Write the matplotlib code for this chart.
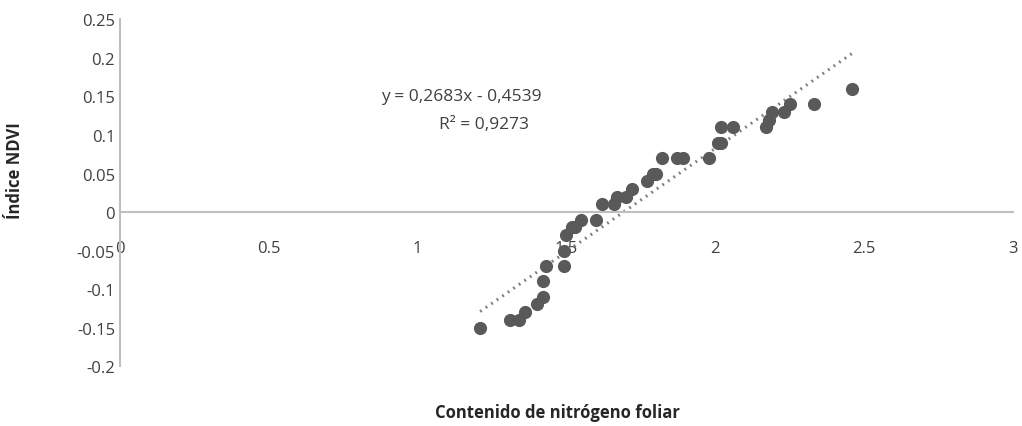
import numpy as np
import matplotlib.pyplot as plt

plt.rcParams['font.family'] = ['Open Sans', 'DejaVu Sans']

# data
nitrogeno = [1.21, 1.31, 1.34, 1.36, 1.40, 1.42, 1.42, 1.43, 1.49, 1.49,
             1.50, 1.52, 1.53, 1.55, 1.60, 1.62, 1.66, 1.67, 1.70, 1.72,
             1.77, 1.79, 1.80, 1.82, 1.87, 1.89, 1.98, 2.01, 2.02, 2.02,
             2.06, 2.17, 2.18, 2.19, 2.23, 2.25, 2.33, 2.46]
ndvi = [-0.15, -0.14, -0.14, -0.13, -0.12, -0.11, -0.09, -0.07, -0.07, -0.05,
        -0.03, -0.02, -0.02, -0.01, -0.01, 0.01, 0.01, 0.02, 0.02, 0.03,
        0.04, 0.05, 0.05, 0.07, 0.07, 0.07, 0.07, 0.09, 0.09, 0.11,
        0.11, 0.11, 0.12, 0.13, 0.13, 0.14, 0.14, 0.16]
pendiente = 0.2683
intercepto = -0.4539
r2 = 0.9273

xticks = [0, 0.5, 1, 1.5, 2, 2.5, 3]
yticks = [-0.2, -0.15, -0.1, -0.05, 0, 0.05, 0.1, 0.15, 0.2, 0.25]

fig = plt.figure(figsize=(10.22, 4.27), dpi=100)
ax = fig.add_axes([0.1174, 0.1405, 0.8738, 0.8115])

ax.scatter(nitrogeno, ndvi, s=90, color='#595959', zorder=3, linewidths=0)

xt = np.array([min(nitrogeno), max(nitrogeno)])
ax.plot(xt, pendiente * xt + intercepto, color='#7f7f7f', lw=2.2,
        linestyle=(0, (0.6, 1.6)), zorder=2)

ax.text(1.146, 0.151, 'y = 0,2683x - 0,4539', ha='center', va='center', fontsize=12.5,
        color='#404040')
ax.text(1.223, 0.114, 'R² = 0,9273', ha='center', va='center', fontsize=12.5,
        color='#404040')

ax.set_xlim(0, 3)
ax.set_ylim(-0.2, 0.25)
ax.set_xticks(xticks)
ax.set_xticklabels(['0', '0.5', '1', '1.5', '2', '2.5', '3'])
ax.set_yticks(yticks)
ax.set_yticklabels(['-0.2', '-0.15', '-0.1', '-0.05', '0', '0.05', '0.1', '0.15', '0.2', '0.25'])
ax.tick_params(length=0, labelsize=12, colors='#404040')
ax.tick_params(axis='x', pad=20.5)

ax.spines['top'].set_visible(False)
ax.spines['right'].set_visible(False)
ax.spines['bottom'].set_position(('data', 0))
for sp in ['bottom', 'left']:
    ax.spines[sp].set_color('#bfbfbf')
    ax.spines[sp].set_linewidth(1.5)

fig.text(0.5450, 0.033, 'Contenido de nitrógeno foliar', ha='center', va='center',
         fontsize=12, fontweight='bold', color='#262626')
fig.text(0.015, 0.60, 'Índice NDVI', ha='center', va='center', rotation=90,
         fontsize=12, fontweight='bold', color='#262626')

fig.savefig('out.png', dpi=100)
